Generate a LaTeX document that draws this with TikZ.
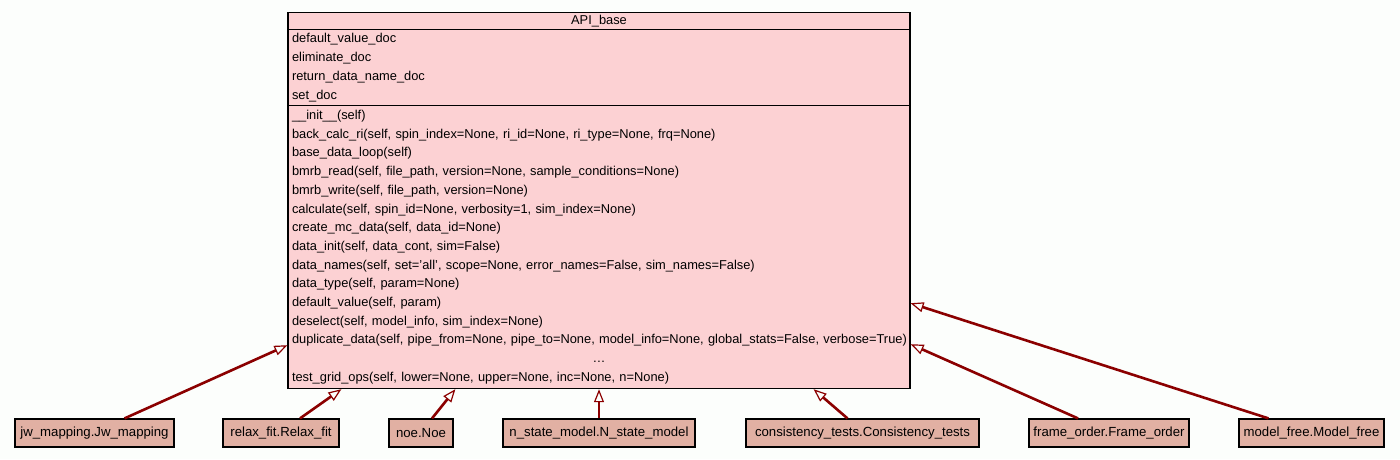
\documentclass[tikz,border=0pt]{standalone}
\usepackage{fontspec}
\setmainfont{Liberation Sans}
\usetikzlibrary{arrows.meta}

\definecolor{pagebg}{RGB}{252,254,252}
\definecolor{basefill}{RGB}{252,209,211}
\definecolor{childfill}{RGB}{225,176,163}
\definecolor{edgered}{RGB}{139,0,0}

\tikzset{
  basepart/.style={draw=black, line width=1.2pt, fill=basefill, anchor=north,
    minimum width=622pt, inner xsep=4pt, inner ysep=0pt, text width=614pt,
    font=\fontsize{12.85}{18.7}\selectfont},
  childclass/.style={draw=black, line width=1.2pt, fill=childfill,
    minimum height=28pt, inner xsep=2pt, font=\fontsize{13.2}{16}\selectfont},
  inheritline/.style={draw=edgered, line width=2.6pt,
    -{Triangle[open, length=13pt, width=10pt, line width=1.2pt]}}
}

\begin{document}
\begin{tikzpicture}[x=1pt, y=-1pt]
  \fill[pagebg] (0,0) rectangle (1400,459);
  \useasboundingbox (0,0) rectangle (1400,459);

  \node[basepart, align=center, minimum height=17pt] (apibase) at (599,12) {API\_base};
  \node[basepart, align=left, minimum height=76pt] (apibaseattr) at (599,29) {%
    default\_value\_doc\\
    eliminate\_doc\\
    return\_data\_name\_doc\\
    set\_doc};
  \node[basepart, align=left, minimum height=283pt] (apibaseops) at (599,105) {%
    \_\_init\_\_(self)\\
    back\_calc\_ri(self, spin\_index=None, ri\_id=None, ri\_type=None, frq=None)\\
    base\_data\_loop(self)\\
    bmrb\_read(self, file\_path, version=None, sample\_conditions=None)\\
    bmrb\_write(self, file\_path, version=None)\\
    calculate(self, spin\_id=None, verbosity=1, sim\_index=None)\\
    create\_mc\_data(self, data\_id=None)\\
    data\_init(self, data\_cont, sim=False)\\
    data\_names(self, set='all', scope=None, error\_names=False, sim\_names=False)\\
    data\_type(self, param=None)\\
    default\_value(self, param)\\
    deselect(self, model\_info, sim\_index=None)\\
    \makebox[614pt][l]{duplicate\_data(self, pipe\_from=None, pipe\_to=None, model\_info=None, global\_stats=False, verbose=True)}\\
    \makebox[614pt]{…}\\
    test\_grid\_ops(self, lower=None, upper=None, inc=None, n=None)};

  \node[childclass, minimum width=159pt] (jwmapping) at (94.5,433) {jw\_mapping.Jw\_mapping};
  \node[childclass, minimum width=116pt] (relaxfit) at (281,433) {relax\_fit.Relax\_fit};
  \node[childclass, minimum width=64pt] (noe) at (421,433) {noe.Noe};
  \node[childclass, minimum width=192pt] (nstatemodel) at (599,433) {n\_state\_model.N\_state\_model};
  \node[childclass, minimum width=233pt] (consistencytests) at (862.5,433) {consistency\_tests.Consistency\_tests};
  \node[childclass, minimum width=160pt] (frameorder) at (1109,433) {frame\_order.Frame\_order};
  \node[childclass, minimum width=145pt] (modelfree) at (1311.5,433) {model\_free.Model\_free};

  \draw[inheritline] ([xshift=30pt]jwmapping.north) -- ([yshift=44pt]apibaseops.south west);
  \draw[inheritline] ([xshift=19pt]relaxfit.north) -- ([xshift=54pt]apibaseops.south west);
  \draw[inheritline] ([xshift=11pt]noe.north) -- ([xshift=168pt]apibaseops.south west);
  \draw[inheritline] (nstatemodel.north) -- (apibaseops.south);
  \draw[inheritline] ([xshift=-15pt]consistencytests.north) -- ([xshift=-97pt]apibaseops.south east);
  \draw[inheritline] ([xshift=-31pt]frameorder.north) -- ([yshift=45pt]apibaseops.south east);
  \draw[inheritline] ([xshift=-43pt]modelfree.north) -- ([yshift=86pt]apibaseops.south east);
\end{tikzpicture}
\end{document}
